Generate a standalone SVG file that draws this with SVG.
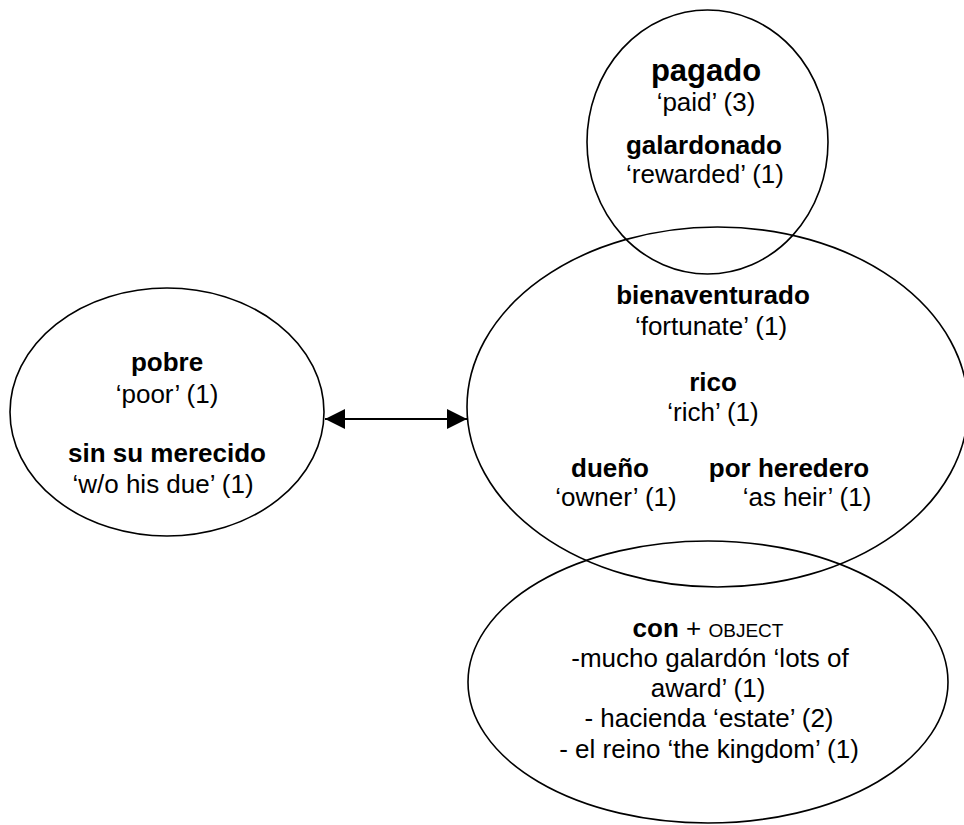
<svg xmlns="http://www.w3.org/2000/svg" width="964" height="825" viewBox="0 0 964 825">
<style>
.e{fill:none;stroke:#000;stroke-width:1.6}
text{font-family:"Liberation Sans",Arial,sans-serif;font-size:26px;fill:#000;text-anchor:middle}
.b{font-weight:bold}
.big{font-size:31px;font-weight:bold}
.sc{font-size:19px}
</style>
<defs>
<marker id="ah" markerUnits="userSpaceOnUse" markerWidth="20" markerHeight="20" refX="20" refY="10" orient="auto-start-reverse">
<path d="M0,0 L20,10 L0,20 z" fill="#000"/>
</marker>
</defs>
<g id="connectors">
<line x1="325" y1="419" x2="467" y2="419" stroke="#000" stroke-width="2" marker-start="url(#ah)" marker-end="url(#ah)"/>
</g>
<g id="node-pagado">
<ellipse class="e" cx="707.5" cy="142" rx="120.5" ry="132"/>
<text x="706" y="81" class="big">pagado</text>
<text x="706" y="111">‘paid’ (3)</text>
<text x="704" y="154" class="b">galardonado</text>
<text x="705" y="183">‘rewarded’ (1)</text>
</g>
<g id="node-rico">
<ellipse class="e" cx="717.5" cy="407" rx="250.5" ry="180"/>
<text x="713" y="304" class="b">bienaventurado</text>
<text x="711" y="335">‘fortunate’ (1)</text>
<text x="713" y="391" class="b">rico</text>
<text x="713" y="421">‘rich’ (1)</text>
<text x="610" y="477" class="b">dueño</text>
<text x="616" y="506">‘owner’ (1)</text>
<text x="789" y="477" class="b">por heredero</text>
<text x="807" y="506">‘as heir’ (1)</text>
</g>
<g id="node-pobre">
<ellipse class="e" cx="167" cy="412" rx="157" ry="124"/>
<text x="167" y="371" class="b">pobre</text>
<text x="167" y="403">‘poor’ (1)</text>
<text x="167" y="462" class="b">sin su merecido</text>
<text x="163" y="493">‘w/o his due’ (1)</text>
</g>
<g id="node-con">
<ellipse class="e" cx="708" cy="682" rx="240" ry="141"/>
<text x="708" y="637"><tspan class="b">con</tspan> + <tspan class="sc">OBJECT</tspan></text>
<text x="710" y="667">-mucho galardón ‘lots of</text>
<text x="708" y="697">award’ (1)</text>
<text x="709" y="727">- hacienda ‘estate’ (2)</text>
<text x="709" y="758">- el reino ‘the kingdom’ (1)</text>
</g>
</svg>
